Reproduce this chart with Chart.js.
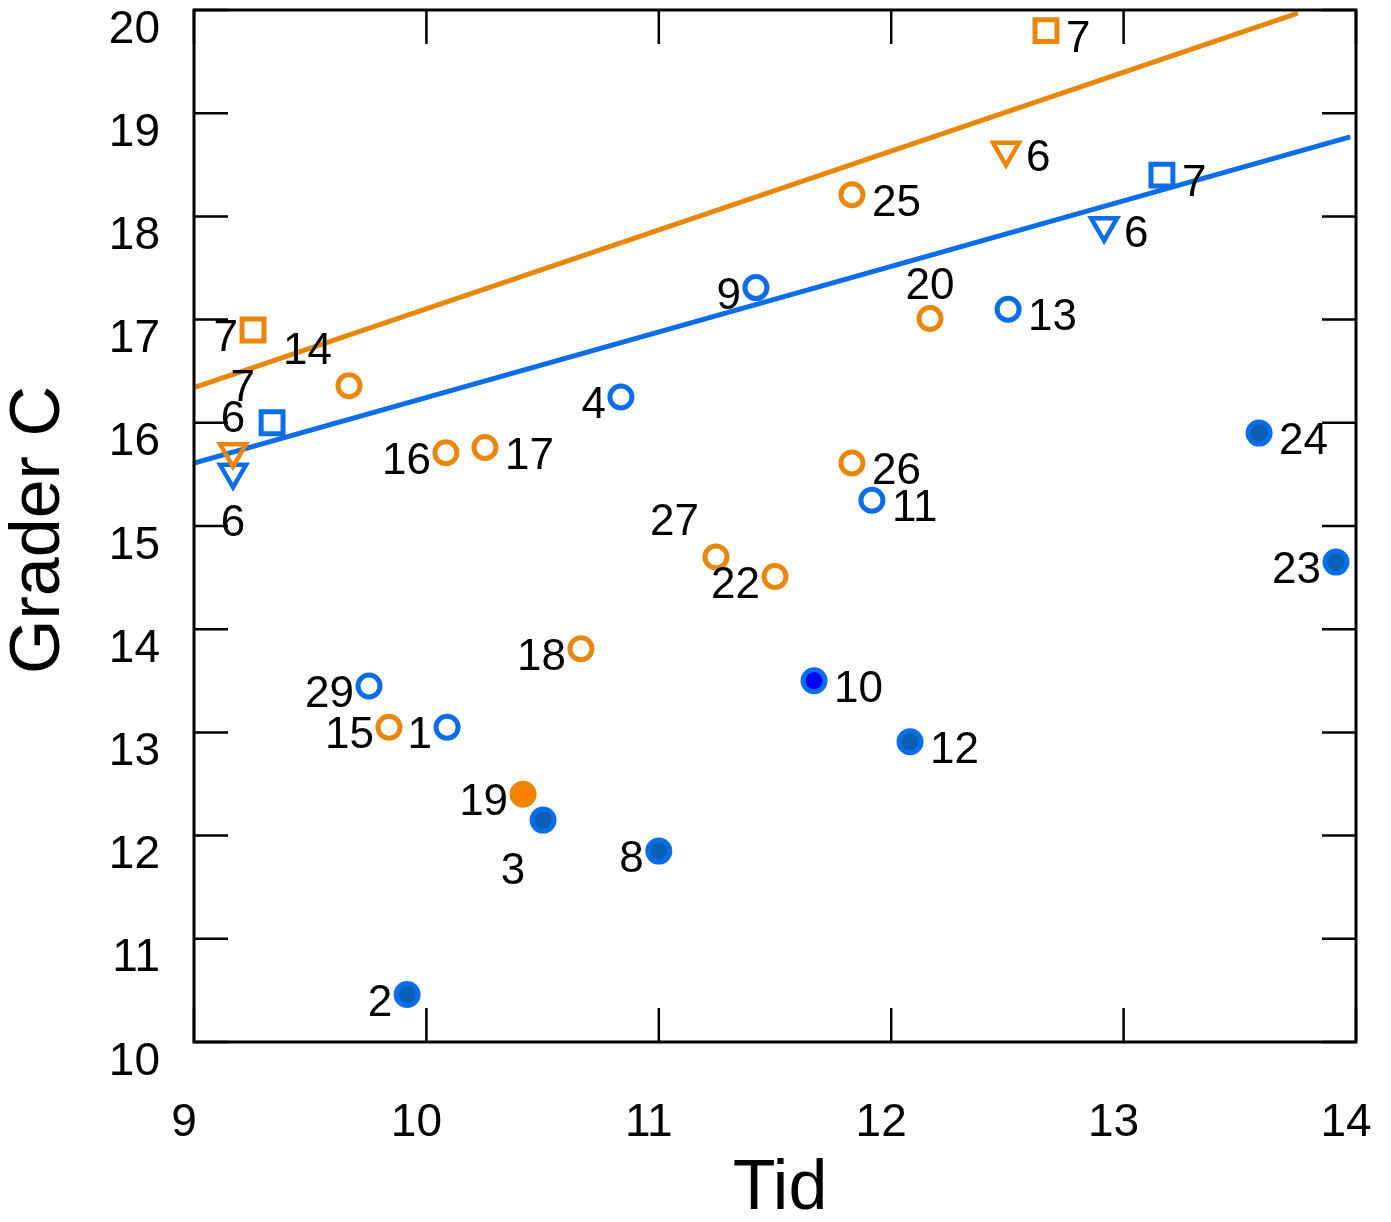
<!DOCTYPE html>
<html>
<head>
<meta charset="utf-8">
<script src="https://cdn.jsdelivr.net/npm/chart.js@4/dist/chart.umd.min.js"></script>
<style>
  html, body { margin: 0; background: #fff; }
  #chart { display: block; }
</style>
</head>
<body>
<canvas id="chart" width="1391" height="1222"></canvas>
<script>
// ==================== DATA ====================
const X_TICKS = [9, 10, 11, 12, 13, 14];
const Y_TICKS = [10, 11, 12, 13, 14, 15, 16, 17, 18, 19, 20];

const orangeOpenX = [9.667, 10.084, 10.252, 11.831, 12.167, 11.831, 11.246, 11.50, 10.665, 9.839];
const orangeOpenY = [16.36, 15.71, 15.76, 18.21, 17.01, 15.61, 14.70, 14.51, 13.81, 13.05];
const orangeOpenIds = [14, 16, 17, 25, 20, 26, 27, 22, 18, 15];

const orangeFilledX = [10.416];
const orangeFilledY = [12.40];
const orangeFilledIds = [19];

const blueOpenX = [11.418, 12.503, 10.837, 11.917, 9.753, 10.089];
const blueOpenY = [17.31, 17.10, 16.25, 15.25, 13.45, 13.05];
const blueOpenIds = [9, 13, 4, 11, 29, 1];

const blueFilledX = [9.917, 10.502, 11.0, 11.668, 12.081, 13.583, 13.914];
const blueFilledY = [10.46, 12.15, 11.85, 13.50, 12.91, 15.90, 14.65];
const blueFilledIds = [2, 3, 8, 10, 12, 24, 23];

const orangeSquareX = [9.254, 12.666];
const orangeSquareY = [16.90, 19.80];
const orangeSquareIds = [7, 7];

const blueSquareX = [13.165, 9.336];
const blueSquareY = [18.40, 16.00];
const blueSquareIds = [7, 7];

const orangeTriX = [12.494, 9.168];
const orangeTriY = [18.64, 15.72];
const orangeTriIds = [6, 6];

const blueTriX = [12.916, 9.168];
const blueTriY = [17.91, 15.52];
const blueTriIds = [6, 6];

const orangeFitX = [9, 13.75];
const orangeFitY = [16.34, 19.97];
const blueFitX = [9, 13.975];
const blueFitY = [15.61, 18.77];

// label placement relative to each point (kept apart from the values)
const orangeOpenPos = ['TL', 'L', 'R', 'R', 'T', 'R', 'TL', 'L', 'L', 'L'];
const orangeFilledPos = ['L'];
const blueOpenPos = ['L', 'R', 'L', 'R', 'L', 'L'];
const blueFilledPos = ['L', 'BL', 'L', 'R', 'R', 'R', 'L'];
const orangeSquarePos = ['L', 'R'];
const blueSquarePos = ['R', 'TL'];
const orangeTriPos = ['R', 'T'];
const blueTriPos = ['R', 'B'];

// ==================== STYLE ====================
const ORANGE = '#e8870b';
const BLUE = '#0b6de8';
const FONT = '"Liberation Sans", Arial, sans-serif';

const LABEL_OFFSETS = {
  L:  [-15, 9, 'right'],
  R:  [20, 9, 'left'],
  T:  [0, -32, 'center'],
  B:  [0, 52, 'center'],
  TL: [-17, -34, 'right'],
  BL: [-30, 52, 'center']
};

const pts = (xs, ys) => xs.map((x, i) => ({ x, y: ys[i] }));

function markerSet(xs, ys, ids, pos, extra) {
  return Object.assign({
    type: 'scatter',
    data: pts(xs, ys),
    ids, pos,
    pointRadius: 11,
    pointBorderWidth: 5,
    pointBackgroundColor: 'rgba(0,0,0,0)',
    order: 1
  }, extra);
}

function fitLine(xs, ys, color) {
  return {
    type: 'line',
    data: pts(xs, ys),
    borderColor: color,
    borderWidth: 5,
    pointRadius: 0,
    fill: false,
    order: 10
  };
}

// ==================== PLUGINS ====================
const frame = {
  id: 'frame',
  afterDraw(chart) {
    const { ctx, chartArea: a, scales } = chart;
    const tick = 34;
    ctx.save();
    ctx.strokeStyle = '#000';
    ctx.lineWidth = 2.5;
    X_TICKS.forEach(v => {
      const x = scales.x.getPixelForValue(v);
      ctx.beginPath();
      ctx.moveTo(x, a.bottom); ctx.lineTo(x, a.bottom - tick);
      ctx.moveTo(x, a.top); ctx.lineTo(x, a.top + tick);
      ctx.stroke();
    });
    Y_TICKS.forEach(v => {
      const y = scales.y.getPixelForValue(v);
      ctx.beginPath();
      ctx.moveTo(a.left, y); ctx.lineTo(a.left + tick, y);
      ctx.moveTo(a.right, y); ctx.lineTo(a.right - tick, y);
      ctx.stroke();
    });
    ctx.lineWidth = 3;
    ctx.strokeRect(a.left, a.top, a.right - a.left, a.bottom - a.top);

    ctx.fillStyle = '#000';
    ctx.font = '70px ' + FONT;
    ctx.textAlign = 'center';
    ctx.textBaseline = 'middle';
    ctx.fillText('Tid', 780, 1190);
    ctx.translate(40, 530);
    ctx.rotate(-Math.PI / 2);
    ctx.fillText('Grader C', 0, 0);
    ctx.restore();
  }
};

const pointLabels = {
  id: 'pointLabels',
  afterDatasetsDraw(chart) {
    const { ctx } = chart;
    ctx.save();
    ctx.fillStyle = '#000';
    ctx.font = '44px ' + FONT;
    ctx.textBaseline = 'middle';
    chart.data.datasets.forEach((ds, di) => {
      if (!ds.ids) return;
      const meta = chart.getDatasetMeta(di);
      meta.data.forEach((el, i) => {
        const [dx, dy, align] = LABEL_OFFSETS[ds.pos[i]];
        ctx.textAlign = align;
        ctx.fillText(String(ds.ids[i]), el.x + dx, el.y + dy);
      });
    });
    ctx.restore();
  }
};

// ==================== CHART ====================
const tickFont = { family: FONT, size: 46 };

new Chart(document.getElementById('chart'), {
  type: 'scatter',
  data: {
    datasets: [
      fitLine(orangeFitX, orangeFitY, ORANGE),
      fitLine(blueFitX, blueFitY, BLUE),
      markerSet(orangeOpenX, orangeOpenY, orangeOpenIds, orangeOpenPos, { pointBorderColor: ORANGE }),
      markerSet(blueOpenX, blueOpenY, blueOpenIds, blueOpenPos, { pointBorderColor: BLUE }),
      markerSet(orangeFilledX, orangeFilledY, orangeFilledIds, orangeFilledPos, {
        pointRadius: 11, pointBorderWidth: 5, pointBorderColor: ORANGE, pointBackgroundColor: '#ff7e00'
      }),
      markerSet(blueFilledX, blueFilledY, blueFilledIds, blueFilledPos, {
        pointRadius: 11, pointBorderWidth: 5, pointBorderColor: BLUE,
        pointBackgroundColor: ['#0a5fb4', '#0a5fb4', '#0a5fb4', '#0000f0', '#0a5fb4', '#0a5fb4', '#0a5fb4']
      }),
      markerSet(orangeSquareX, orangeSquareY, orangeSquareIds, orangeSquarePos, {
        pointStyle: 'rect', pointRadius: 15.5, pointBorderWidth: 5, pointBorderColor: ORANGE
      }),
      markerSet(blueSquareX, blueSquareY, blueSquareIds, blueSquarePos, {
        pointStyle: 'rect', pointRadius: 15.5, pointBorderWidth: 5, pointBorderColor: BLUE
      }),
      markerSet(orangeTriX, orangeTriY, orangeTriIds, orangeTriPos, {
        pointStyle: 'triangle', rotation: 180, pointRadius: 15, pointBorderWidth: 4.5, pointBorderColor: ORANGE
      }),
      markerSet(blueTriX, blueTriY, blueTriIds, blueTriPos, {
        pointStyle: 'triangle', rotation: 180, pointRadius: 15, pointBorderWidth: 4.5, pointBorderColor: BLUE
      })
    ]
  },
  options: {
    responsive: false,
    animation: false,
    devicePixelRatio: 1,
    layout: { autoPadding: false, padding: { top: 10, right: 35, left: 0, bottom: 0 } },
    plugins: { legend: { display: false }, tooltip: { enabled: false } },
    scales: {
      x: {
        type: 'linear', min: 9, max: 14,
        afterFit: s => { s.height = 180; s.paddingLeft = 0; s.paddingRight = 0; },
        afterBuildTicks: s => { s.ticks = X_TICKS.map(v => ({ value: v })); },
        grid: { display: false, drawTicks: false },
        border: { display: false },
        ticks: { color: '#000', font: tickFont, padding: 54, labelOffset: -10, maxRotation: 0 }
      },
      y: {
        type: 'linear', min: 10, max: 20,
        afterFit: s => { s.width = 194; s.paddingTop = 0; s.paddingBottom = 0; },
        afterBuildTicks: s => { s.ticks = Y_TICKS.map(v => ({ value: v })); },
        grid: { display: false, drawTicks: false },
        border: { display: false },
        ticks: { color: '#000', font: tickFont, padding: 34, labelOffset: 20 }
      }
    }
  },
  plugins: [frame, pointLabels]
});
</script>
</body>
</html>
